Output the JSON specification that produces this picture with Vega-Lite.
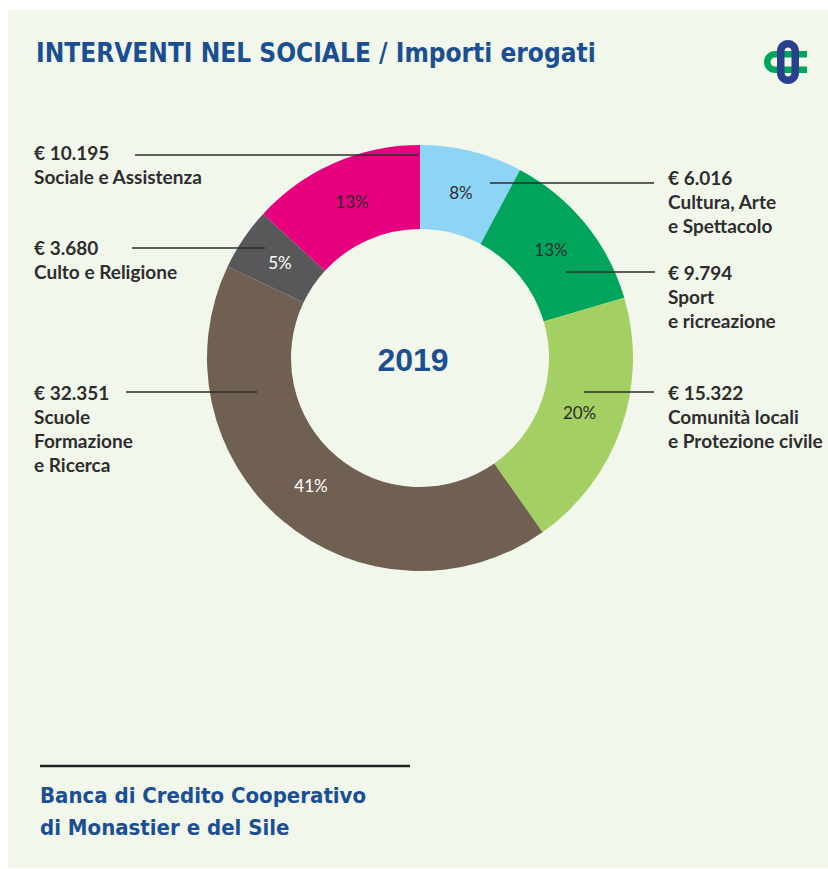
{
  "$schema": "https://vega.github.io/schema/vega-lite/v6.json",
  "width": 828,
  "height": 869,
  "autosize": {"type": "fit", "contains": "padding"},
  "padding": 0,
  "background": "#ffffff",
  "config": {"view": {"stroke": null}},
  "datasets": {
    "spese": [
      {"cat": "Cultura, Arte|e Spettacolo", "amount": 6016, "pct": 8, "ord": 1},
      {"cat": "Sport|e ricreazione", "amount": 9794, "pct": 13, "ord": 2},
      {"cat": "Comunità locali|e Protezione civile", "amount": 15322, "pct": 20, "ord": 3},
      {"cat": "Scuole|Formazione|e Ricerca", "amount": 32351, "pct": 41, "ord": 4},
      {"cat": "Culto e Religione", "amount": 3680, "pct": 5, "ord": 5},
      {"cat": "Sociale e Assistenza", "amount": 10195, "pct": 13, "ord": 6}
    ],
    "one": [{"k": 1}]
  },
  "layer": [
    {
      "data": {"name": "one"},
      "mark": {"type": "rect", "x": 8, "y": 10, "x2": 828, "y2": 868, "fill": "#f2f7ec"}
    },
    {
      "data": {"name": "one"},
      "mark": {"type": "text", "x": 36, "y": 41, "align": "left", "baseline": "top", "text": "INTERVENTI NEL SOCIALE / Importi erogati", "font": "DejaVu Sans Condensed", "fontSize": 26, "fontWeight": "bold", "color": "#1c4f91"}
    },
    {
      "data": {"name": "one"},
      "mark": {"type": "point", "x": 787, "y": 62, "size": 2116, "filled": true, "opacity": 1, "strokeWidth": 0, "color": "#00a55a",
        "shape": "M 0.87 -0.478 L -0.522 -0.478 A 0.478 0.478 0 0 0 -0.522 0.478 L 0.87 0.478 L 0.87 0.196 L -0.522 0.196 A 0.196 0.196 0 0 1 -0.522 -0.196 L 0.87 -0.196 Z"}
    },
    {
      "data": {"name": "one"},
      "mark": {"type": "point", "x": 788, "y": 62, "size": 2116, "filled": true, "opacity": 1, "strokeWidth": 0, "color": "#2b3f8f",
        "shape": "M -0.478 -0.478 A 0.478 0.478 0 0 1 0.478 -0.478 L 0.478 0.478 A 0.478 0.478 0 0 1 -0.478 0.478 Z M -0.152 -0.478 L -0.152 0.478 A 0.152 0.152 0 0 0 0.152 0.478 L 0.152 -0.478 A 0.152 0.152 0 0 0 -0.152 -0.478 Z"}
    },
    {
      "data": {"name": "spese"},
      "transform": [
        {"calculate": "'€ ' + replace(format(datum.amount, ','), ',', '.') + '|' + datum.cat", "as": "label"},
        {"calculate": "datum.pct + '%'", "as": "pctlabel"}
      ],
      "layer": [
        {
          "mark": {"type": "arc", "x": 420, "y": 358, "outerRadius": 213, "innerRadius": 129},
          "encoding": {
            "theta": {"field": "amount", "type": "quantitative", "stack": true},
            "order": {"field": "ord", "type": "quantitative"},
            "color": {
              "field": "cat", "type": "nominal", "legend": null,
              "scale": {
                "domain": ["Cultura, Arte|e Spettacolo", "Sport|e ricreazione", "Comunità locali|e Protezione civile", "Scuole|Formazione|e Ricerca", "Culto e Religione", "Sociale e Assistenza"],
                "range": ["#8ed5f5", "#00a55b", "#a3cf63", "#6f6052", "#58585a", "#e6007e"]
              }
            }
          }
        },
        {
          "mark": {"type": "text", "x": 420, "y": 358, "radius": 169, "align": "center", "baseline": "middle", "font": "Lato", "fontSize": 17},
          "encoding": {
            "theta": {"field": "amount", "type": "quantitative", "stack": true},
            "order": {"field": "ord", "type": "quantitative"},
            "text": {"field": "pctlabel", "type": "nominal"},
            "color": {"condition": {"test": "datum.ord == 4 || datum.ord == 5", "value": "#ffffff"}, "value": "#2d2d2d"}
          }
        },
        {
          "transform": [{"filter": "datum.ord == 6"}],
          "layer": [
            {"mark": {"type": "rule", "color": "#2d2d2d", "strokeWidth": 1.5}, "encoding": {"x": {"value": 135}, "x2": {"value": 418}, "y": {"value": 155}}},
            {"mark": {"type": "text", "x": 34, "y": 145, "align": "left", "baseline": "top", "lineBreak": "|", "lineHeight": 24, "font": "Lato", "fontSize": 19, "fontWeight": "bold", "color": "#2d2d2d"}, "encoding": {"text": {"field": "label"}}}
          ]
        },
        {
          "transform": [{"filter": "datum.ord == 5"}],
          "layer": [
            {"mark": {"type": "rule", "color": "#2d2d2d", "strokeWidth": 1.5}, "encoding": {"x": {"value": 132}, "x2": {"value": 265}, "y": {"value": 248}}},
            {"mark": {"type": "text", "x": 34, "y": 240, "align": "left", "baseline": "top", "lineBreak": "|", "lineHeight": 24, "font": "Lato", "fontSize": 19, "fontWeight": "bold", "color": "#2d2d2d"}, "encoding": {"text": {"field": "label"}}}
          ]
        },
        {
          "transform": [{"filter": "datum.ord == 4"}],
          "layer": [
            {"mark": {"type": "rule", "color": "#2d2d2d", "strokeWidth": 1.5}, "encoding": {"x": {"value": 126}, "x2": {"value": 257}, "y": {"value": 392}}},
            {"mark": {"type": "text", "x": 34, "y": 385, "align": "left", "baseline": "top", "lineBreak": "|", "lineHeight": 24, "font": "Lato", "fontSize": 19, "fontWeight": "bold", "color": "#2d2d2d"}, "encoding": {"text": {"field": "label"}}}
          ]
        },
        {
          "transform": [{"filter": "datum.ord == 1"}],
          "layer": [
            {"mark": {"type": "rule", "color": "#2d2d2d", "strokeWidth": 1.5}, "encoding": {"x": {"value": 490}, "x2": {"value": 654}, "y": {"value": 183}}},
            {"mark": {"type": "text", "x": 668, "y": 170, "align": "left", "baseline": "top", "lineBreak": "|", "lineHeight": 24, "font": "Lato", "fontSize": 19, "fontWeight": "bold", "color": "#2d2d2d"}, "encoding": {"text": {"field": "label"}}}
          ]
        },
        {
          "transform": [{"filter": "datum.ord == 2"}],
          "layer": [
            {"mark": {"type": "rule", "color": "#2d2d2d", "strokeWidth": 1.5}, "encoding": {"x": {"value": 566}, "x2": {"value": 655}, "y": {"value": 272}}},
            {"mark": {"type": "text", "x": 668, "y": 265, "align": "left", "baseline": "top", "lineBreak": "|", "lineHeight": 24, "font": "Lato", "fontSize": 19, "fontWeight": "bold", "color": "#2d2d2d"}, "encoding": {"text": {"field": "label"}}}
          ]
        },
        {
          "transform": [{"filter": "datum.ord == 3"}],
          "layer": [
            {"mark": {"type": "rule", "color": "#2d2d2d", "strokeWidth": 1.5}, "encoding": {"x": {"value": 584}, "x2": {"value": 654}, "y": {"value": 392}}},
            {"mark": {"type": "text", "x": 668, "y": 385, "align": "left", "baseline": "top", "lineBreak": "|", "lineHeight": 24, "font": "Lato", "fontSize": 19, "fontWeight": "bold", "color": "#2d2d2d"}, "encoding": {"text": {"field": "label"}}}
          ]
        }
      ]
    },
    {
      "data": {"name": "one"},
      "mark": {"type": "text", "x": 413, "y": 361, "align": "center", "baseline": "middle", "text": "2019", "font": "Liberation Sans", "fontSize": 32, "fontWeight": "bold", "color": "#1c4f91"}
    },
    {
      "data": {"name": "one"},
      "mark": {"type": "rule", "color": "#222222", "strokeWidth": 2.5},
      "encoding": {"x": {"value": 40}, "x2": {"value": 410}, "y": {"value": 766}}
    },
    {
      "data": {"name": "one"},
      "mark": {"type": "text", "x": 40, "y": 786, "align": "left", "baseline": "top", "lineHeight": 32, "text": ["Banca di Credito Cooperativo", "di Monastier e del Sile"], "font": "DejaVu Sans Condensed", "fontSize": 22, "fontWeight": "bold", "color": "#1c4f91"}
    }
  ]
}
